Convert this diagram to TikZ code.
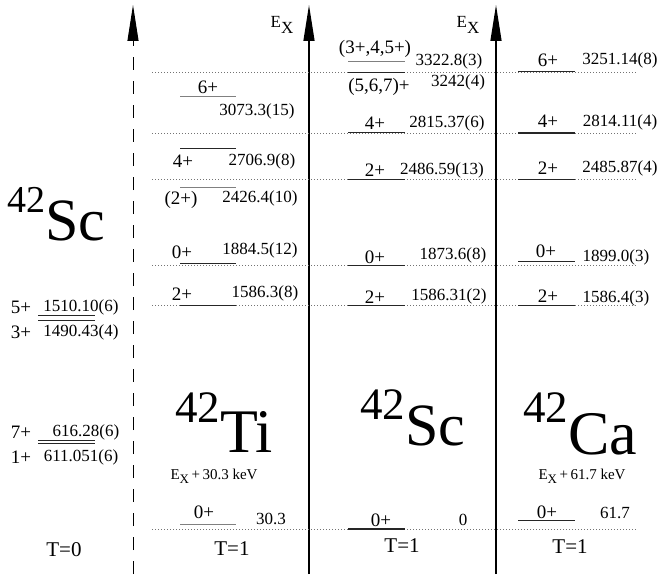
\documentclass[tikz,border=0pt]{standalone}
\usepackage{fontspec}
\setmainfont{Liberation Serif}
\usetikzlibrary{arrows.meta}
\newcommand{\ey}[1]{45+0.1407*#1}
\tikzset{
  levline/.style={draw=black!85, line width=1.2pt},
  levgray/.style={levline, draw=black!50},
  guide/.style={draw=black!55, line width=0.7pt, dash pattern=on 1pt off 2pt},
  axisline/.style={line width=1.3pt, -{Triangle[length=36pt,width=11pt]}},
  spinlab/.style={font=\fontsize{19}{19}\selectfont, inner sep=0pt},
  enlab/.style={font=\fontsize{17}{17}\selectfont, inner sep=0pt},
  isolab/.style={font=\fontsize{21}{21}\selectfont, inner sep=0pt},
  shiftlab/.style={font=\fontsize{15}{15}\selectfont, inner sep=0pt},
  nucl/.style={anchor=base west, inner sep=0pt}
}
\begin{document}
\begin{tikzpicture}[x=1pt,y=1pt]
    \useasboundingbox (0,0) rectangle (660,574);

    % axes
    \coordinate (tzbot) at (133,0);
    \coordinate (tztop) at (133,569);
    \coordinate (tibot) at (309,0);
    \coordinate (titop) at (309,569);
    \coordinate (scbot) at (496,0);
    \coordinate (sctop) at (496,569);
    \draw[axisline, line width=1pt, dash pattern=on 13pt off 11pt] (tzbot) -- (tztop);
    \draw[axisline] (tibot) -- (titop);
    \draw[axisline] (scbot) -- (sctop);
    \node[enlab] (exti) at (282,549) {E\raisebox{-6pt}{X}};
    \node[enlab] (exsc) at (468,549) {E\raisebox{-6pt}{X}};

    % dotted guides at the 42Sc levels
    \foreach \e in {0,1586.31,1873.6,2486.59,2815.37,3242}
        \draw[guide] (152,{\ey{\e}}) -- (637,{\ey{\e}});

    % T=0 states
    \draw[levline, line width=1pt] (38,{\ey{1510.10}+1}) -- (95,{\ey{1510.10}+1});
    \draw[levline, line width=1pt] (38,{\ey{1490.43}-1}) -- (95,{\ey{1490.43}-1});
    \draw[levline, line width=1pt] (38,{\ey{616.28}+1.5}) -- (95,{\ey{616.28}+1.5});
    \draw[levline, line width=1pt] (38,{\ey{611.051}-0.5}) -- (95,{\ey{611.051}-0.5});
    \node[spinlab] (s5) at (21,267) {5+};
    \node[enlab] (e1510) at (81,267) {1510.10(6)};
    \node[spinlab] (s3) at (21,242) {3+};
    \node[enlab] (e1490) at (81,242) {1490.43(4)};
    \node[spinlab] (s7) at (21,142) {7+};
    \node[enlab] (e616) at (86,142) {616.28(6)};
    \node[spinlab] (s1) at (21,117) {1+};
    \node[enlab] (e611) at (81,117) {611.051(6)};
    \node[nucl] (sczero) at (7,334) {\raisebox{28pt}{\fontsize{38}{38}\selectfont 42}\fontsize{60}{60}\selectfont Sc};
    \node[isolab] (tzero) at (64,24) {T=0};

    % 42Ti
    \draw[levgray] (180,{\ey{3073.3}}) -- (236,{\ey{3073.3}});
    \draw[levline] (180,{\ey{2706.9}}) -- (236,{\ey{2706.9}});
    \draw[levgray] (180,{\ey{2426.4}}) -- (236,{\ey{2426.4}});
    \draw[levline] (180,{\ey{1884.5}}) -- (236,{\ey{1884.5}});
    \draw[levline] (180,{\ey{1586.3}}) -- (236,{\ey{1586.3}});
    \draw[levgray] (180,{\ey{30.3}}) -- (236,{\ey{30.3}});
    \node[spinlab] (ti6) at (208,487) {6+};
    \node[enlab] (ti3073) at (257,463) {3073.3(15)};
    \node[spinlab] (ti4) at (183,413) {4+};
    \node[enlab] (ti2706) at (262,413) {2706.9(8)};
    \node[spinlab] (ti2b) at (181,374) {(2+)};
    \node[enlab] (ti2426) at (260,376) {2426.4(10)};
    \node[spinlab] (ti0b) at (182,322) {0+};
    \node[enlab] (ti1884) at (260,324) {1884.5(12)};
    \node[spinlab] (ti2) at (182,280) {2+};
    \node[enlab] (ti1586) at (265,281) {1586.3(8)};
    \node[spinlab] (ti0) at (204,62) {0+};
    \node[enlab] (ti30) at (271,55) {30.3};
    \node[shiftlab] (tishift) at (214,98) {E\raisebox{-4pt}{\fontsize{13}{13}\selectfont X}\,+\,30.3 keV};
    \node[nucl] (tiname) at (175,122) {\raisebox{30pt}{\fontsize{45}{45}\selectfont 42}\fontsize{62}{62}\selectfont Ti};
    \node[isolab] (tione) at (232,25) {T=1};

    % 42Sc
    \draw[levgray] (348,{\ey{3322.8}}) -- (405,{\ey{3322.8}});
    \draw[levline] (348,{\ey{3242}}) -- (405,{\ey{3242}});
    \draw[levline] (348,{\ey{2815.37}}) -- (405,{\ey{2815.37}});
    \draw[levline] (348,{\ey{2486.59}}) -- (405,{\ey{2486.59}});
    \draw[levline] (348,{\ey{1873.6}}) -- (405,{\ey{1873.6}});
    \draw[levline] (348,{\ey{1586.31}}) -- (405,{\ey{1586.31}});
    \draw[levline] (348,{\ey{0}}) -- (405,{\ey{0}});
    \node[spinlab] (sc345) at (375,525) {(3+,4,5+)};
    \node[enlab] (sc3322) at (449,513) {3322.8(3)};
    \node[spinlab] (sc567) at (379,487) {(5,6,7)+};
    \node[enlab] (sc3242) at (458,492) {3242(4)};
    \node[spinlab] (sc4) at (375,451) {4+};
    \node[enlab] (sc2815) at (447,451) {2815.37(6)};
    \node[spinlab] (sc2b) at (375,404) {2+};
    \node[enlab] (sc2486) at (442,404) {2486.59(13)};
    \node[spinlab] (sc0b) at (375,317) {0+};
    \node[enlab] (sc1873) at (453,319) {1873.6(8)};
    \node[spinlab] (sc2) at (375,277) {2+};
    \node[enlab] (sc1586) at (449,278) {1586.31(2)};
    \node[spinlab] (sc0) at (381,54) {0+};
    \node[enlab] (scgs) at (463,54) {0};
    \node[nucl] (scname) at (360,129) {\raisebox{26pt}{\fontsize{45}{45}\selectfont 42}\fontsize{60}{60}\selectfont Sc};
    \node[isolab] (scone) at (402,28) {T=1};

    % 42Ca
    \draw[levline] (518,{\ey{3251.14}}) -- (575,{\ey{3251.14}});
    \draw[levline] (518,{\ey{2814.11}}) -- (575,{\ey{2814.11}});
    \draw[levline] (518,{\ey{2485.87}}) -- (575,{\ey{2485.87}});
    \draw[levline] (518,{\ey{1899.0}}) -- (575,{\ey{1899.0}});
    \draw[levline] (518,{\ey{1586.4}}) -- (575,{\ey{1586.4}});
    \draw[levline] (518,{\ey{61.7}}) -- (575,{\ey{61.7}});
    \node[spinlab] (ca6) at (548,514) {6+};
    \node[enlab] (ca3251) at (620,514) {3251.14(8)};
    \node[spinlab] (ca4) at (548,453) {4+};
    \node[enlab] (ca2814) at (620,452) {2814.11(4)};
    \node[spinlab] (ca2b) at (548,406) {2+};
    \node[enlab] (ca2485) at (620,406) {2485.87(4)};
    \node[spinlab] (ca0b) at (546,323) {0+};
    \node[enlab] (ca1899) at (616,317) {1899.0(3)};
    \node[spinlab] (ca2) at (548,278) {2+};
    \node[enlab] (ca1586) at (616,276) {1586.4(3)};
    \node[spinlab] (ca0) at (547,62) {0+};
    \node[enlab] (ca61) at (615,61) {61.7};
    \node[shiftlab] (cashift) at (582,98) {E\raisebox{-4pt}{\fontsize{13}{13}\selectfont X}\,+\,61.7 keV};
    \node[nucl] (caname) at (523,120) {\raisebox{32pt}{\fontsize{45}{45}\selectfont 42}\fontsize{62}{62}\selectfont Ca};
    \node[isolab] (caone) at (570,27) {T=1};
\end{tikzpicture}
\end{document}
